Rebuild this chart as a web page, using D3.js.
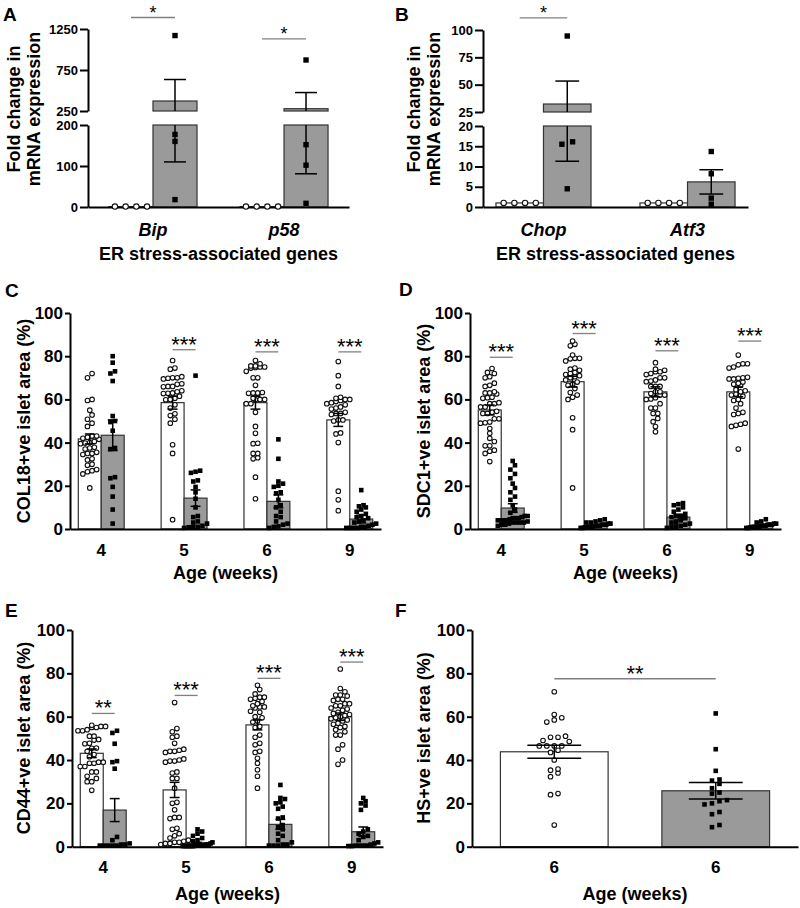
<!DOCTYPE html>
<html><head><meta charset="utf-8">
<script src="https://cdn.jsdelivr.net/npm/d3@7"></script>
<style>body{margin:0;background:#fff} svg text{font-family:"Liberation Sans",Arial,Helvetica,sans-serif;font-weight:700}</style>
</head><body>
<svg id="chart" width="800" height="908" style="background:#fff"></svg>
<script>
// ================= DATA =================
// Panel A
const genesA = ["Bip", "p58"];
const ctrlPtsA = [[1, 1, 1, 1], [1, 1, 1, 1]];
const treatPtsA = [[1170, 177, 160, 18], [872, 152, 102, 9]];
const ctrlMeanA = [1, 1], ctrlSemA = [0, 0];
const treatMeanA = [372, 278], treatSemA = [262, 197];
const sigLevelA = [1390, 1130];
const ticksLowA = [0, 100, 200], ticksHighA = [250, 750, 1250];

// Panel B
const genesB = ["Chop", "Atf3"];
const ctrlPtsB = [[1, 1, 1, 1], [1, 1, 1, 1]];
const treatPtsB = [[94.5, 16.1, 15.5, 4.5], [13.7, 8.2, 2.2, 0.7]];
const ctrlMeanB = [1, 1], ctrlSemB = [0, 0];
const treatMeanB = [32.3, 6.2], treatSemB = [21, 3.0];
const sigLevelB = [111, null];
const ticksLowB = [0, 5, 10, 15, 20], ticksHighB = [25, 50, 75, 100];

// Shared for C-E
const weeks = ["4", "5", "6", "9"];
const pctTicks = [0, 20, 40, 60, 80, 100];

// Panel C (COL18)
const colCtrlPts = [
  [70,72,59.5,60,55,52.8,50.8,49,47.5,43,42,43,41.5,42.5,40,39.5,40.5,39.8,37.5,37,37.8,35,34.5,35.5,35,32,32.5,30,29.5,27.5,27,25.5,26.5,19],
  [78,74,74.5,70,69.5,70,70.5,69.8,67,66,65.8,67.2,66,64,63.5,62.8,62.7,63,60.5,60,61.5,59.8,56,57.5,53.3,52.5,50.8,49,39,35,4.3],
  [78,76.5,75.5,75.5,75,74.5,74.8,75,73,70,70,66.5,63,62.5,62.8,63,63.2,60,60.5,59.8,60,58,58,54,47.5,44.3,39.7,39.5,35,35,33,32.5,24,14],
  [77.5,71,66,60.5,60,60,61,59.5,58,58.5,59,57.5,56,56.5,55.5,53.5,53,53.5,54,50.5,50.5,50,44.5,44,40,17.5,13.5,8.5]
];
const colTreatPts = [
  [80,77,73,72,68.5,52.3,50,49.5,45.5,37.5,37,24,23.5,19.5,15,9,2.5],
  [71,27,26.5,26,22.5,22,19.5,17,14,10,6,5.5,3.5,3,2.5,1.5,1,0.8,0.5,1],
  [41.5,32.5,22,21,20,19.5,17,16.5,13.5,11,10,8,6,5.5,3.5,2.5,1.2,1,2,0.5],
  [18,11,10.5,10,9,8,7,6,5.5,5,4,3.5,3,2.5,2,1.5,1,1,0.5,0.5,0.5,0.5]
];
const colCtrlMean = [41.7, 58.5, 58.5, 50.5], colCtrlSem = [2.3, 3, 3, 3];
const colTreatMean = [43.4, 14.3, 12.8, 4.6], colTreatSem = [7.1, 3.8, 3, 1.8];
const colSigLabel = ["", "***", "***", "***"];
const colSigLevel = [null, 83, 82, 82];

// Panel D (SDC1)
const sdcCtrlPts = [
  [74.3,72,72.5,70,70.5,66,67.5,66.5,63,63.5,62.5,63,61,60.5,60.8,58,58,58.5,56.5,56.5,54,54.5,53.5,53.5,51,51,49.2,49,49.5,46.5,44.3,42,40.5,38.5,38.5,36,35,36.5,31.2],
  [87,85.5,84.8,80.5,79,78.8,79,77.8,74,74.5,73.5,72.5,72,71.5,71,70.5,70,69,68,67,66.5,65,63.2,62,61,60,51.5,46,19],
  [77,74,72.8,73.5,72,72.8,71.5,70,70,68.5,69,68.2,66,66,66,63.5,62.7,63.5,62,62,60.2,60.8,60,58,56,56,53.5,53.5,51.2,49.7,47.4,45],
  [80.5,76.5,76.5,76,75,74.5,70,69.5,69.8,70.2,69.5,68,67.5,67,66.5,64.5,64,63.5,62.5,62,61.5,60,59.5,58,56,54,53.5,53,49,48,48.5,47.5,37]
];
const sdcTreatPts = [
  [31.5,29.5,27.5,25.5,23.5,21,19,17,15,13.5,11,9,7.5,6,5.5,5,4.5,4,3.5,3,2.5,2,1.5,3,4,5,4,3,6,5,2,3,4],
  [4.5,4,3.5,3,2.5,2,2,1.5,1.5,1,1,0.5,0.5,1,2,3,1.5,0.8,1.2,2.5],
  [12,11.5,11,10,9,8,7,6,5.5,5,4,3,2.5,2,1.5,1,0.5,1,3,6],
  [4.5,3.5,3,2.5,2,2,1.5,1.5,1,1,1,0.5,0.5,1.5,2,2.5,1,0.8]
];
const sdcCtrlMean = [55.1, 68.2, 63.5, 63.5], sdcCtrlSem = [2.3, 2.5, 2.3, 2.3];
const sdcTreatMean = [9.7, 1.5, 5.5, 1.4], sdcTreatSem = [2, 0.4, 1.3, 0.3];
const sdcSigLabel = ["***", "***", "***", "***"];
const sdcSigLevel = [79.5, 90.5, 82.5, 87];

// Panel E (CD44)
const cdCtrlPts = [
  [55.5,55,55,55.5,56,53.5,54,53.5,51,51,49.2,49.5,47.7,47.5,45.5,45.4,42.5,44,41.5,39,38.5,38.5,39,37,37,34.5,34.5,32.5,31.5,30,30,26],
  [66.5,54.5,53,50.5,51,47.7,45,44,44.5,44,43.5,40,40.5,39.5,39,39.5,34.5,34,31.5,31.5,27,20.5,20,17,13.5,13,13.5,8.5,8,5,6,4,3,2.5,2,2,1.5,1.5,1],
  [74.5,72.5,70.5,69,68.5,68,69,67,66,65,64.5,64.5,64,62,62.5,60,59.5,58,57.5,55.5,55,51.5,50.5,47.7,47,44,43.5,40.8,38.5,35.5,32.5,27],
  [82,73,71.5,70,70,69.5,68,68,67.5,66,66,65,65,64,63.5,63,62,61.5,61,60.5,60,59.5,59,58.5,58,57,56.5,55.5,55,54,53,51.5,51.5,47,45,40,38]
];
const cdTreatPts = [
  [53.5,52.5,47.5,39.5,39,36,4.5,3,1,0.5,0.5,1,0.5,0.5,1.5,0.5],
  [8,7,6,5,4,3,2.5,2,1.5,1,1,0.5,0.5,0.5,0.3,0.3,0.3,0.3,0.5,0.5,1,0.3,0.3,0.3],
  [28.5,22.5,22,20.5,20,18.5,17.5,13.5,13,10,9,8,6,5,3,2,1,0.5,0.5,1,0.5],
  [22.5,21,20,19,17,8,7,6,5,4.5,3,2,1.5,1,0.5,0.5,0.5,0.5,0.3,0.3]
];
const cdCtrlMean = [43.1, 26.2, 56.2, 60], cdCtrlSem = [2, 3.5, 2.3, 1.7];
const cdTreatMean = [16.9, 1.5, 10.3, 6.9], cdTreatSem = [5.3, 0.5, 2.3, 2.2];
const cdSigLabel = ["**", "***", "***", "***"];
const cdSigLevel = [61.5, 69.8, 77.7, 85.2];

// Panel F (HS)
const weeksF = ["6", "6"];
const hsCtrlPts = [71.5,61,59.5,58.5,57.5,51,50.5,50.5,49,48.5,46.5,46.5,46.5,46.5,44.5,43.5,40,35.8,35.3,34,32.3,24.5,24,10];
const hsTreatPts = [61.5,45,35,31,30.5,29,27,25,24.5,21.5,21,20,19.5,16,15,10,9];
const hsMean = [43.8, 25.8], hsSem = [3, 3.8];
const hsSigLabel = "**", hsSigLevel = 77.5;

// ================= DRAWING =================
const FONT = '"Liberation Sans", Arial, Helvetica, sans-serif';
const svg = d3.select("#chart");

function pairBars(cats, cP, tP, cM, cS, tM, tS) {
  const out = [];
  cats.forEach((c, i) => {
    out.push({cat: c, sub: "ctrl", kind: "ctrl", pts: cP[i], mean: cM[i], sem: cS[i]});
    out.push({cat: c, sub: "treat", kind: "treat", pts: tP[i], mean: tM[i], sem: tS[i]});
  });
  return out;
}
function pairSig(cats, labels, levels) {
  return cats.map((c, i) => levels[i] == null ? null :
    {a: [c, "ctrl"], b: [c, "treat"], v: levels[i], label: labels[i]});
}

function swarm(vals, Y, cx, rowGap, sp, maxW) {
  const pts = vals.map(v => ({v, y: Y(v)})).sort((a, b) => b.y - a.y);
  const rows = []; let cur = null;
  pts.forEach(p => {
    if (!cur || cur.y0 - p.y >= rowGap) { cur = {y0: p.y, items: []}; rows.push(cur); }
    cur.items.push(p);
  });
  rows.forEach(r => {
    const k = r.items.length; let s = sp;
    if (k > 1 && (k - 1) * s > maxW) s = maxW / (k - 1);
    r.items.forEach((p, i) => { p.x = cx + (i - (k - 1) / 2) * s; });
  });
  return pts;
}

function styleAxis(ax, fs) {
  ax.attr("font-family", FONT).attr("font-size", fs);
  ax.select(".domain").attr("stroke", "#000").attr("stroke-width", 2);
  ax.selectAll(".tick line").attr("stroke", "#000").attr("stroke-width", 2);
  ax.selectAll(".tick text").attr("fill", "#000").style("font-weight", "700");
}

function drawPanel(P) {
  const g = svg.append("g");
  const x = d3.scaleBand().domain(P.cats).range([P.x0, P.x1]).paddingInner(P.pi).paddingOuter(P.po);
  const xs = d3.scaleBand().domain(P.subs).range([0, x.bandwidth()]);
  const bw = xs.bandwidth();
  let Y, segs, axesY;
  if (P.broken) {
    const yl = d3.scaleLinear().domain([0, P.lowMax]).range([P.yBase, P.lowTop]);
    const yh = d3.scaleLinear().domain([P.brk, P.top]).range([P.highBase, P.yTop]);
    Y = v => v >= P.brk ? yh(v) : yl(Math.min(v, P.lowMax));
    segs = (a, b) => {
      const o = [];
      if (a < P.lowMax) o.push([yl(a), yl(Math.min(b, P.lowMax))]);
      if (b > P.brk) o.push([yh(Math.max(a, P.brk)), yh(b)]);
      return o;
    };
    axesY = [[yl, P.lowTicks], [yh, P.highTicks]];
  } else {
    const y = d3.scaleLinear().domain([0, P.top]).range([P.yBase, P.yTop]);
    Y = v => y(v);
    segs = (a, b) => [[y(a), y(b)]];
    axesY = [[y, P.ticks]];
  }
  const cxOf = (cat, sub) => x(cat) + xs(sub) + bw / 2;

  // bars
  P.bars.forEach(b => {
    const bx = x(b.cat) + xs(b.sub);
    segs(0, b.mean).forEach(([y0, y1]) => {
      g.append("rect").attr("x", bx).attr("y", Math.min(y0, y1))
        .attr("width", bw).attr("height", Math.max(0.5, Math.abs(y0 - y1)))
        .attr("fill", b.kind === "treat" ? "#9a9a9a" : "#fff")
        .attr("stroke", "#333").attr("stroke-width", 1.2);
    });
  });

  // axes
  axesY.forEach(([sc, tv]) => {
    const ax = g.append("g").attr("transform", `translate(${P.x0},0)`)
      .call(d3.axisLeft(sc).tickValues(tv).tickFormat(d3.format("d"))
        .tickSize(P.tick).tickSizeOuter(0).tickPadding(P.tickPad));
    styleAxis(ax, P.tickFont);
  });
  const xa = g.append("g").attr("transform", `translate(0,${P.yBase})`)
    .call(d3.axisBottom(x).tickSize(0).tickSizeOuter(0).tickFormat((d, i) => P.catLabels[i]));
  styleAxis(xa, P.xFont);
  xa.selectAll(".tick text").attr("dy", null).attr("y", P.xlab)
    .style("font-style", P.italic ? "italic" : "normal");

  // points
  P.bars.forEach(b => {
    const cx = cxOf(b.cat, b.sub);
    const pts = swarm(b.pts, Y, cx, P.rowGap, P.sp, bw * P.maxWf);
    if (b.kind === "treat") {
      g.selectAll(null).data(pts).enter().append("rect")
        .attr("x", d => d.x - P.sq / 2).attr("y", d => d.y - P.sq / 2)
        .attr("width", P.sq).attr("height", P.sq).attr("fill", "#000");
    } else {
      g.selectAll(null).data(pts).enter().append("circle")
        .attr("cx", d => d.x).attr("cy", d => d.y).attr("r", P.r)
        .attr("fill", "#fff").attr("stroke", "#111").attr("stroke-width", 1.1);
    }
  });

  // error bars
  P.bars.forEach(b => {
    if (!(b.sem > 0)) return;
    const cx = cxOf(b.cat, b.sub);
    const lo = Math.max(0, b.mean - b.sem), hi = b.mean + b.sem;
    segs(lo, hi).forEach(([a, c]) => {
      g.append("line").attr("x1", cx).attr("x2", cx).attr("y1", a).attr("y2", c)
        .attr("stroke", "#000").attr("stroke-width", 1.5);
    });
    const cw = bw * P.capF;
    [hi, lo].forEach(v => {
      g.append("line").attr("x1", cx - cw / 2).attr("x2", cx + cw / 2)
        .attr("y1", Y(v)).attr("y2", Y(v)).attr("stroke", "#000").attr("stroke-width", 1.5);
    });
  });

  // significance
  P.sig.forEach(s => {
    if (!s) return;
    const xA = cxOf(s.a[0], s.a[1]), xB = cxOf(s.b[0], s.b[1]);
    const yy = Y(s.v);
    g.append("line").attr("x1", xA).attr("x2", xB).attr("y1", yy).attr("y2", yy)
      .attr("stroke", "#808080").attr("stroke-width", 1.3);
    g.append("text").attr("x", (xA + xB) / 2).attr("y", yy + P.starDy)
      .attr("text-anchor", "middle").attr("font-size", P.starFont)
      .style("font-weight", "400").attr("fill", "#000").text(s.label);
  });

  // titles
  P.yTitle.forEach((t, i) => {
    g.append("text").attr("transform", `translate(${P.yTitleX[i]},${P.yTitleMid}) rotate(-90)`)
      .attr("text-anchor", "middle").attr("font-size", P.titleFont).attr("fill", "#000").text(t);
  });
  g.append("text").attr("x", (P.x0 + P.x1) / 2).attr("y", P.xTitleY)
    .attr("text-anchor", "middle").attr("font-size", P.titleFont).attr("fill", "#000").text(P.xTitle);
  g.append("text").attr("x", P.letter[1]).attr("y", P.letter[2])
    .attr("font-size", 19).attr("fill", "#000").text(P.letter[0]);
}

const geneCommon = {
  subs: ["ctrl", "treat"], broken: true, yBase: 207, tick: 8, tickPad: 2, tickFont: 13,
  xFont: 18, italic: true, xlab: 29, rowGap: 5.5, sp: 10.7, maxWf: 1.0, r: 2.7, sq: 5.4,
  capF: 0.5, starFont: 18, starDy: 1, titleFont: 18, yTitleMid: 109,
  yTitle: ["Fold change in", "mRNA expression"], xTitle: "ER stress-associated genes", xTitleY: 260
};
drawPanel(Object.assign({}, geneCommon, {
  cats: genesA, catLabels: genesA, x0: 88, x1: 349, pi: 0.328, po: 0.16,
  lowMax: 200, lowTop: 125, brk: 250, highBase: 111, top: 1250, yTop: 29,
  lowTicks: ticksLowA, highTicks: ticksHighA,
  bars: pairBars(genesA, ctrlPtsA, treatPtsA, ctrlMeanA, ctrlSemA, treatMeanA, treatSemA),
  sig: pairSig(genesA, ["*", "*"], sigLevelA),
  yTitleX: [20, 40], letter: ["A", 3, 21]
}));
drawPanel(Object.assign({}, geneCommon, {
  cats: genesB, catLabels: genesB, x0: 483, x1: 748, pi: 0.34, po: 0.09,
  lowMax: 20, lowTop: 126, brk: 25, highBase: 112, top: 100, yTop: 30,
  lowTicks: ticksLowB, highTicks: ticksHighB,
  bars: pairBars(genesB, ctrlPtsB, treatPtsB, ctrlMeanB, ctrlSemB, treatMeanB, treatSemB),
  sig: pairSig(genesB, ["*", ""], sigLevelB),
  yTitleX: [420, 440], letter: ["B", 395, 21]
}));

const pctCommon = {
  subs: ["ctrl", "treat"], broken: false, top: 100, ticks: pctTicks, tick: 5, tickPad: 2, tickFont: 17,
  xFont: 17, italic: false, rowGap: 4.5, sp: 4.6, maxWf: 1.3, r: 2.3, sq: 4.6,
  capF: 0.43, starFont: 22, starDy: 2, titleFont: 18, xTitle: "Age (weeks)",
  pi: 0.446, po: 0.10, cats: weeks, catLabels: weeks
};
drawPanel(Object.assign({}, pctCommon, {
  x0: 70, x1: 381, yBase: 529, yTop: 313, xlab: 27, xTitleY: 579,
  bars: pairBars(weeks, colCtrlPts, colTreatPts, colCtrlMean, colCtrlSem, colTreatMean, colTreatSem),
  sig: pairSig(weeks, colSigLabel, colSigLevel),
  yTitle: ["COL18+ve islet area (%)"], yTitleX: [30], yTitleMid: 421, letter: ["C", 5, 297]
}));
drawPanel(Object.assign({}, pctCommon, {
  x0: 470, x1: 781, yBase: 529, yTop: 313, xlab: 27, xTitleY: 579,
  bars: pairBars(weeks, sdcCtrlPts, sdcTreatPts, sdcCtrlMean, sdcCtrlSem, sdcTreatMean, sdcTreatSem),
  sig: pairSig(weeks, sdcSigLabel, sdcSigLevel),
  yTitle: ["SDC1+ve islet area (%)"], yTitleX: [430], yTitleMid: 421, letter: ["D", 399, 296]
}));
drawPanel(Object.assign({}, pctCommon, {
  x0: 72, x1: 383, yBase: 846.7, yTop: 630, xlab: 26, xTitleY: 900,
  bars: pairBars(weeks, cdCtrlPts, cdTreatPts, cdCtrlMean, cdCtrlSem, cdTreatMean, cdTreatSem),
  sig: pairSig(weeks, cdSigLabel, cdSigLevel),
  yTitle: ["CD44+ve islet area (%)"], yTitleX: [30], yTitleMid: 738, letter: ["E", 5, 617]
}));
drawPanel(Object.assign({}, pctCommon, {
  cats: ["ctrl", "treat"], catLabels: weeksF, subs: ["all"], pi: 0.333, po: 0.176,
  x0: 472, x1: 798, yBase: 846.7, yTop: 630, xlab: 26, xTitleY: 900,
  sp: 7.5, maxWf: 0.5, capF: 0.5,
  bars: [
    {cat: "ctrl", sub: "all", kind: "ctrl", pts: hsCtrlPts, mean: hsMean[0], sem: hsSem[0]},
    {cat: "treat", sub: "all", kind: "treat", pts: hsTreatPts, mean: hsMean[1], sem: hsSem[1]}
  ],
  sig: [{a: ["ctrl", "all"], b: ["treat", "all"], v: hsSigLevel, label: hsSigLabel}],
  yTitle: ["HS+ve islet area (%)"], yTitleX: [430], yTitleMid: 738, letter: ["F", 395, 617]
}));
</script>
</body></html>
